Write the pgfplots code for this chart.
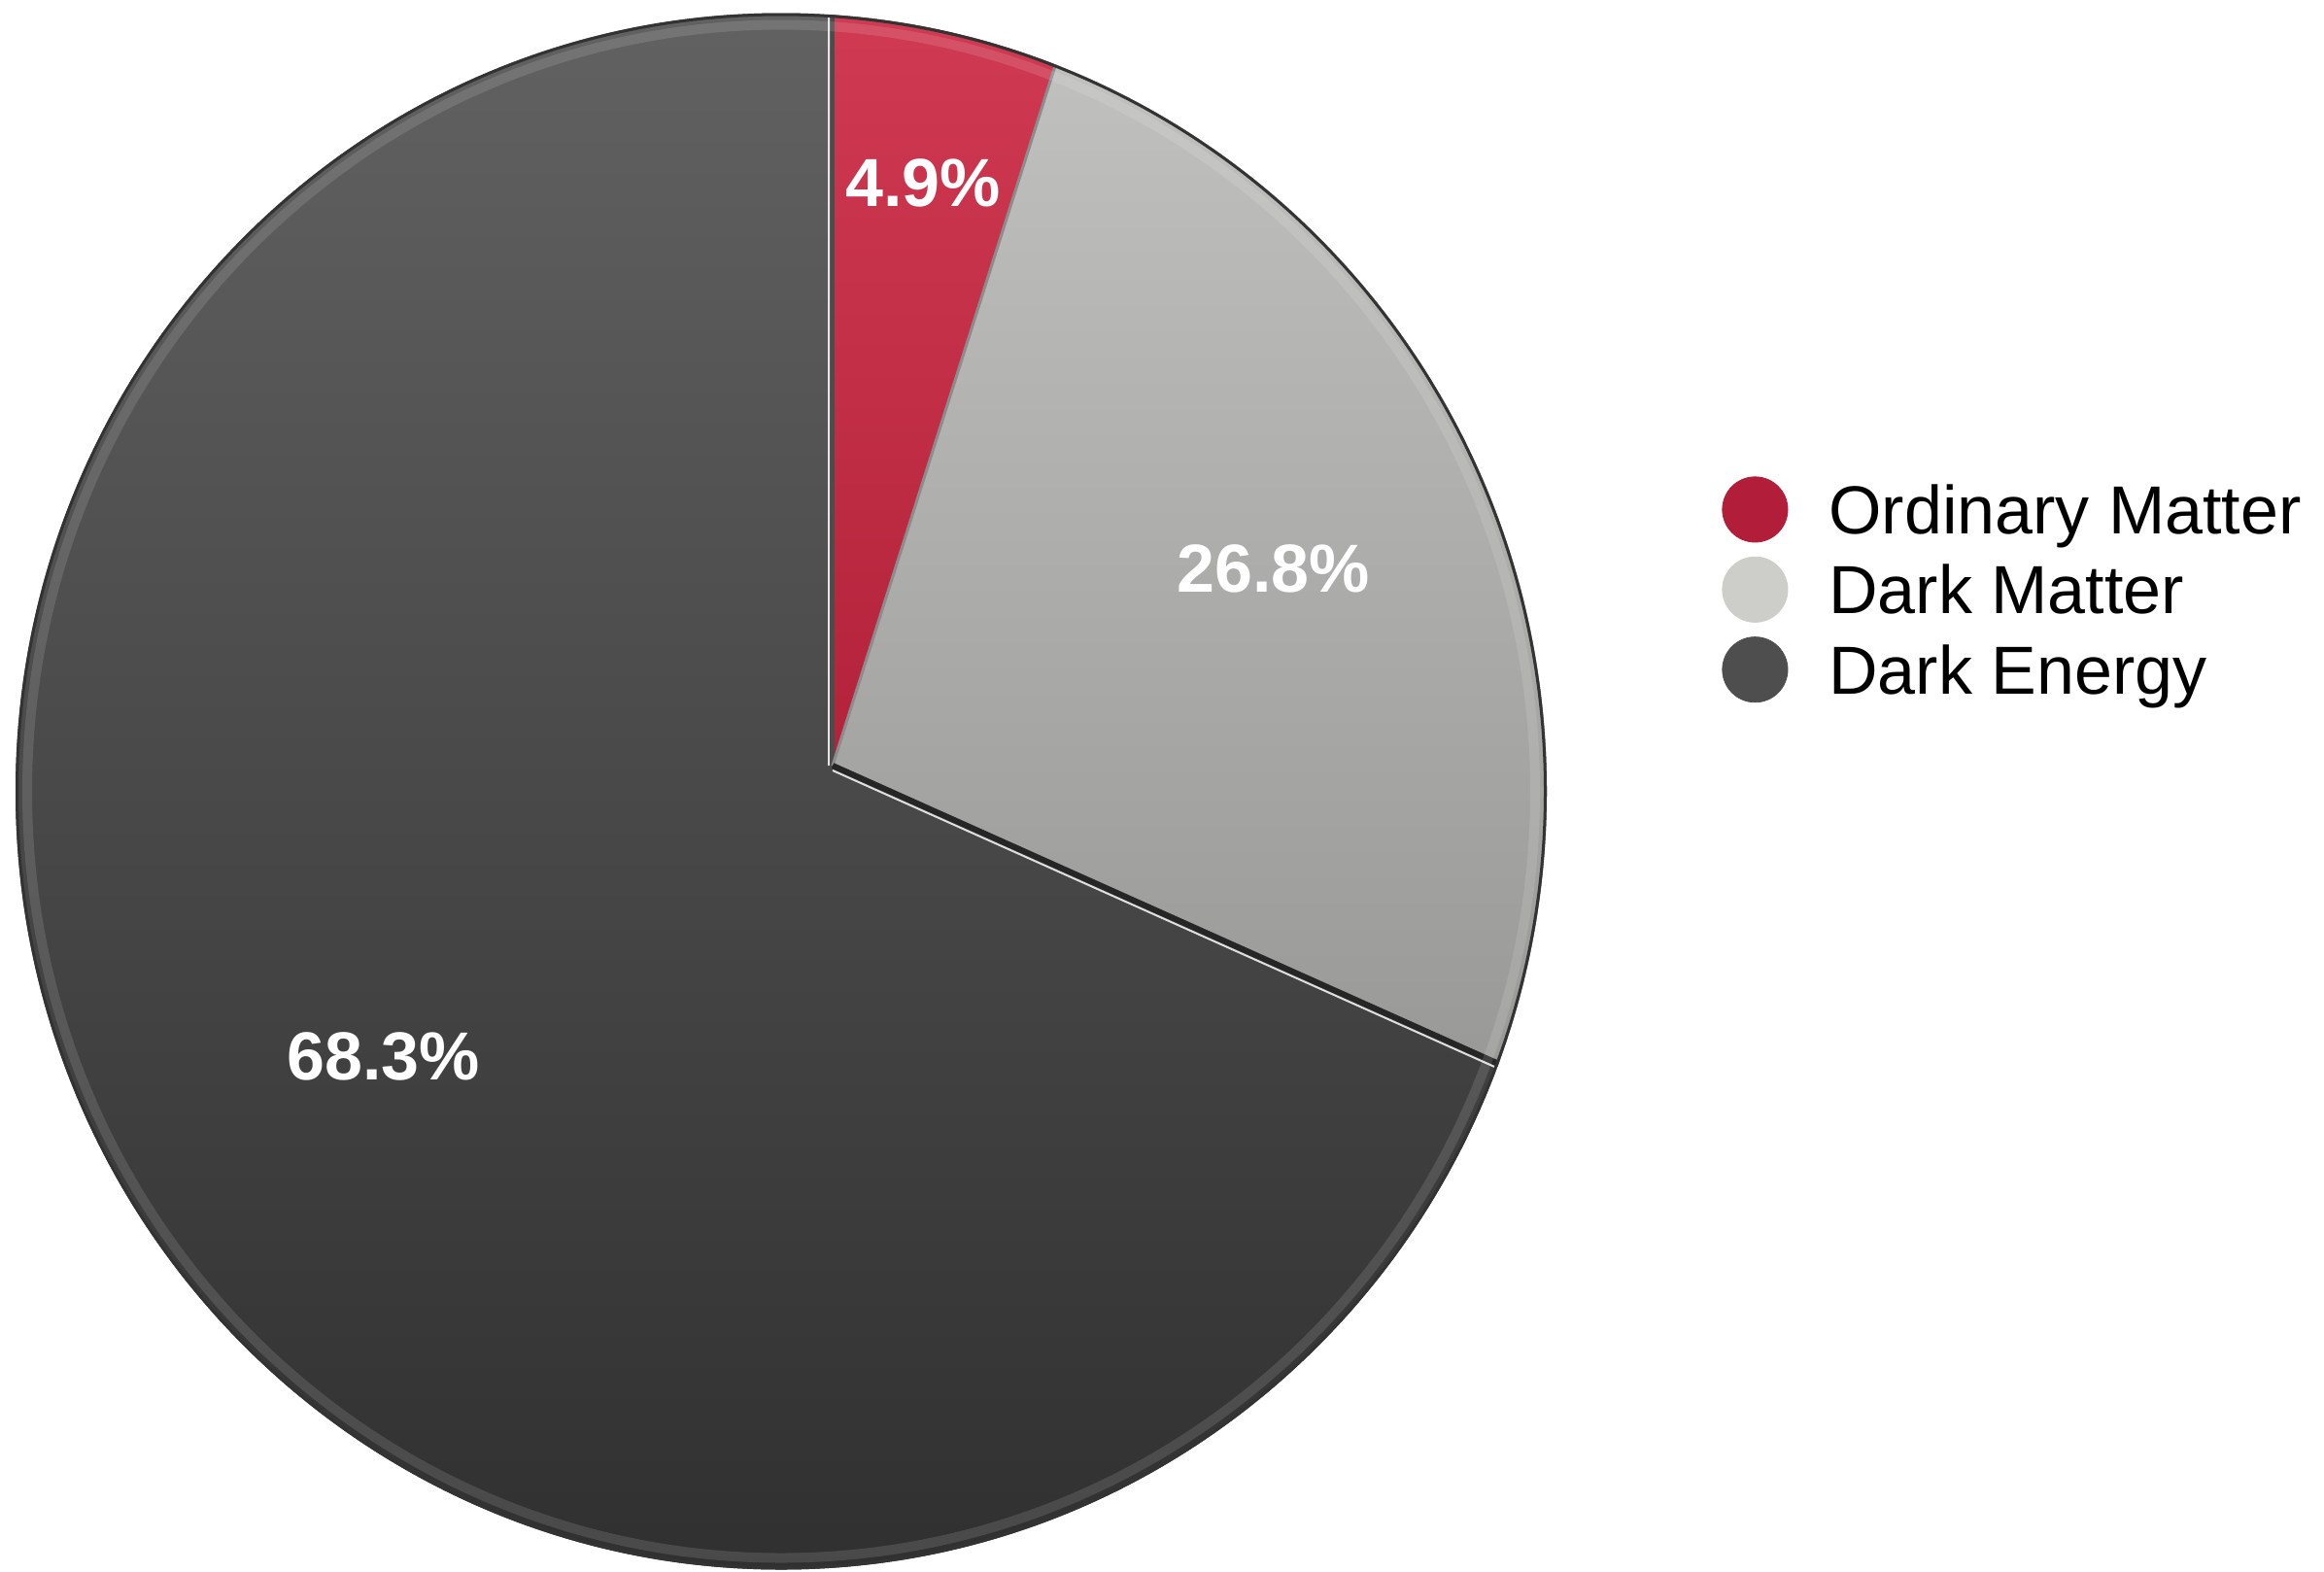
\documentclass[border=0pt]{standalone}
\usepackage{pgfplots}
\usepackage{pgfplotstable}
\pgfplotsset{compat=1.18}
\usepackage{fontspec}
\setmainfont{Liberation Sans}

\definecolor{deTop}{RGB}{98,98,98}
\definecolor{deBot}{RGB}{48,48,48}
\definecolor{dmTop}{RGB}{192,192,190}
\definecolor{dmBot}{RGB}{152,152,150}
\definecolor{omTop}{RGB}{208,58,82}
\definecolor{omBot}{RGB}{178,34,58}
\definecolor{omLeg}{RGB}{178,30,58}
\definecolor{dmLeg}{RGB}{205,205,202}
\definecolor{deLeg}{RGB}{78,78,78}

% share of the universe (percent) and label distance from apex (px)
\pgfplotstableread{
name value labelr
Ordinary 4.9 607
DarkMatter 26.8 497
DarkEnergy 68.3 551
}\piedata

\pgfplotstablegetelem{0}{value}\of\piedata\let\vA\pgfplotsretval
\pgfplotstablegetelem{1}{value}\of\piedata\let\vB\pgfplotsretval
\pgfplotstablegetelem{2}{value}\of\piedata\let\vC\pgfplotsretval
\pgfplotstablegetelem{0}{labelr}\of\piedata\let\rA\pgfplotsretval
\pgfplotstablegetelem{1}{labelr}\of\piedata\let\rB\pgfplotsretval
\pgfplotstablegetelem{2}{labelr}\of\piedata\let\rC\pgfplotsretval

\def\cx{857}\def\cy{788}       % apex of the slices
\def\dx{804}\def\dy{814.5}     % centre of the disc
\def\Rx{394pt}\def\Ry{400.5pt} % disc radii (788 x 801 px)

\pgfmathsetmacro\tA{90-3.6*\vA}
\pgfmathsetmacro\tB{\tA-3.6*\vB}
\pgfmathsetmacro\tC{\tB-3.6*\vC}
\pgfmathsetmacro\mA{(90+\tA)/2}
\pgfmathsetmacro\mB{(\tA+\tB)/2}
\pgfmathsetmacro\mC{(\tB+\tC)/2}
% far points
\pgfmathsetmacro\Fox{\cx+3000*cos(90)}\pgfmathsetmacro\Foy{\cy-3000*sin(90)}
\pgfmathsetmacro\FAx{\cx+3000*cos(\tA)}\pgfmathsetmacro\FAy{\cy-3000*sin(\tA)}
\pgfmathsetmacro\FmAx{\cx+3000*cos(\mA)}\pgfmathsetmacro\FmAy{\cy-3000*sin(\mA)}
\pgfmathsetmacro\FBx{\cx+3000*cos(\tB)}\pgfmathsetmacro\FBy{\cy-3000*sin(\tB)}
\pgfmathsetmacro\FmBx{\cx+3000*cos(\mB)}\pgfmathsetmacro\FmBy{\cy-3000*sin(\mB)}
% labels
\pgfmathsetmacro\LAx{\cx+\rA*cos(\mA)}\pgfmathsetmacro\LAy{\cy-\rA*sin(\mA)}
\pgfmathsetmacro\LBx{\cx+\rB*cos(\mB)}\pgfmathsetmacro\LBy{\cy-\rB*sin(\mB)}
\pgfmathsetmacro\LCx{\cx+\rC*cos(\mC)}\pgfmathsetmacro\LCy{\cy-\rC*sin(\mC)}

\begin{document}
\begin{tikzpicture}
\begin{axis}[
  scale only axis, width=1196pt, height=808.5pt,
  xmin=0, xmax=2392, ymin=0, ymax=1617, y dir=reverse,
  hide axis, clip=false,
  legend cell align=left,
  legend style={at={(axis cs:1766,486)}, anchor=north west, draw=none, fill=none,
    font=\fontsize{35}{42}\selectfont, row sep=7.2pt,
    nodes={inner sep=0pt, text height=25pt, text depth=0pt},
    /tikz/every odd column/.append style={column sep=21pt}},
]
\path (axis cs:0,0) rectangle (axis cs:2392,1617);

\begin{scope}
  \clip (axis cs:\dx,\dy) ellipse[x radius=\Rx, y radius=\Ry];
  % dark energy: whole disc
  \shade[top color=deTop, bottom color=deBot] (axis cs:0,0) rectangle (axis cs:1620,1617);
  % ordinary matter
  \begin{scope}
    \clip (axis cs:\cx,\cy) -- (axis cs:\Fox,\Foy) -- (axis cs:\FmAx,\FmAy) -- (axis cs:\FAx,\FAy) -- cycle;
    \shade[top color=omTop, bottom color=omBot] (axis cs:850,10) rectangle (axis cs:1100,800);
  \end{scope}
  % dark matter
  \begin{scope}
    \clip (axis cs:\cx,\cy) -- (axis cs:\FAx,\FAy) -- (axis cs:\FmBx,\FmBy) -- (axis cs:\FBx,\FBy) -- cycle;
    \shade[top color=dmTop, bottom color=dmBot] (axis cs:850,60) rectangle (axis cs:1620,1130);
  \end{scope}
  % slice edges
  \draw[black!70, line width=2pt] (axis cs:\cx,\cy) -- (axis cs:\Fox,\Foy);
  \draw[white!80!gray, line width=1pt] ([xshift=-2pt]axis cs:\cx,\cy) -- ([xshift=-2pt]axis cs:\Fox,\Foy);
  \draw[black!45, line width=1.5pt] (axis cs:\cx,\cy) -- (axis cs:\FAx,\FAy);
  \draw[black!85, line width=3pt] (axis cs:\cx,\cy) -- (axis cs:\FBx,\FBy);
  \draw[white!75!gray, line width=1pt] ([yshift=-2.5pt]axis cs:\cx,\cy) -- ([yshift=-2.5pt]axis cs:\FBx,\FBy);
  % rim
  \draw[black!80, line width=3pt] (axis cs:\dx,\dy) ellipse[x radius=\Rx, y radius=\Ry];
  \draw[white, opacity=0.12, line width=5pt] (axis cs:\dx,\dy) ellipse[x radius=\Rx-6pt, y radius=\Ry-6pt];
\end{scope}

\node[text=white, font=\fontsize{35}{42}\selectfont\bfseries] at (axis cs:\LAx,\LAy) {4.9\%};
\node[text=white, font=\fontsize{35}{42}\selectfont\bfseries] at (axis cs:\LBx,\LBy) {26.8\%};
\node[text=white, font=\fontsize{35}{42}\selectfont\bfseries] at (axis cs:\LCx,\LCy) {68.3\%};

\addlegendimage{legend image code/.code={\fill[omLeg] (16.8pt,0pt) circle[radius=16.8pt];}}
\addlegendentry{Ordinary Matter}
\addlegendimage{legend image code/.code={\fill[dmLeg] (16.8pt,0pt) circle[radius=16.8pt];}}
\addlegendentry{Dark Matter}
\addlegendimage{legend image code/.code={\fill[deLeg] (16.8pt,0pt) circle[radius=16.8pt];}}
\addlegendentry{Dark Energy}
\end{axis}
\end{tikzpicture}
\end{document}
